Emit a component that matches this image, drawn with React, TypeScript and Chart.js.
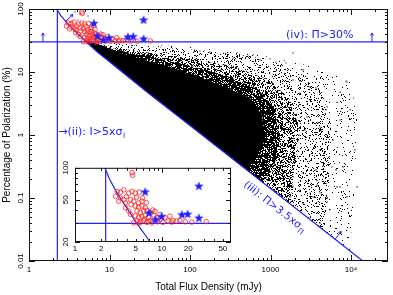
import React, { useEffect, useRef } from 'react';
import { Chart, registerables } from 'chart.js';

Chart.register(...registerables);

// ---------------- data ----------------
const xRange = [1, 28800];
const yRange = [0.01, 100];
const xTickValues = [1, 10, 100, 1000, 10000];
const xTickLabels = ['1', '10', '100', '1000', '10⁴'];
const yTickValues = [0.01, 0.1, 1, 10, 100];
const yTickLabels = ['0.01', '0.1', '1', '10', '100'];

const insetXRange = [1, 62];
const insetYRange = [20, 100];
const insetXTickValues = [1, 2, 5, 10, 20, 50];
const insetXTickLabels = ['1', '2', '5', '10', '20', '50'];
const insetYTickValues = [20, 50, 100];
const insetYTickLabels = ['20', '50', '100'];

// selection limits
const fluxLimit = 2.25; // (ii) I > 5 sigma_I  (mJy)
const polLimit = 30; // (iv) Pi > 30 %
const limitCurveI = [2.2, 2.5, 3, 4, 5, 7, 10, 30, 100, 1000, 14000];
const limitCurveP = [100, 78, 59, 41, 31, 21, 14.5, 4.7, 1.42, 0.142, 0.01];

// envelopes of the dense cloud of polarized sources (upper edge; last point lies on the limit curve)
const coreEdgeI = [5, 18, 75, 236, 556, 784, 855, 642, 482];
const coreEdgeP = [31, 17.9, 10.8, 6.22, 3.87, 2.08, 0.833, 0.401, 0.29];
const innerEdgeI = [5, 18, 75, 280, 700, 1100, 1300, 1100, 800];
const innerEdgeP = [31, 20, 13.8, 8.8, 5.3, 2.7, 0.9, 0.3, 0.175];
const midEdgeI = [5, 18, 75, 314, 986, 1746, 2323, 2014, 1746];
const midEdgeP = [31, 22.3, 17.3, 12.4, 7.46, 3.59, 1.2, 0.334, 0.08];
const outerEdgeI = [5, 31.8, 133, 556, 1746, 4120, 5480, 5480, 4750];
const outerEdgeP = [31, 24.9, 22.3, 17.9, 12.4, 6.22, 1.73, 0.278, 0.0298];
const haloEdgeI = [5, 100, 741, 4120, 9730, 11900, 11200, 9730];
const haloEdgeP = [31, 24.9, 18.6, 11.6, 8.0, 1.73, 0.193, 0.0146];

// sparse sources in the outskirts of the cloud
const fieldI = [1170, 986, 8670, 7300, 3670, 1900, 3100, 2530, 4890, 7300, 5970, 2680, 4120, 1560, 1900, 2320,
  8910, 6700, 9730, 7960, 11900, 4120, 3890, 2840, 2320, 3100, 5040, 5800, 3780, 2530, 3370, 8910, 7300, 5480,
  4120, 3780, 3100, 2530, 1750, 2320, 6700, 3780, 4890, 4120, 6510, 3670, 1900, 342, 272, 133, 177, 741, 11200,
  3.73, 4.3, 4.06, 5.41, 3.42, 6.06];
const fieldP = [14.4, 16.1, 7.2, 4.8, 5.6, 20, 3.6, 10.8, 2.5, 1.73, 0.83, 1.2, 1.34, 13.9, 7.5, 4.6,
  6.9, 3.3, 2.5, 0.31, 0.15, 0.58, 1.55, 1.93, 7.2, 5.8, 2.8, 0.31, 0.19, 0.25, 0.104, 0.104, 0.15, 0.065,
  0.04, 0.058, 0.12, 0.083, 0.104, 0.134, 0.15, 0.16, 0.17, 0.12, 0.28, 0.28, 0.15, 16.7, 12.9, 21.5, 20.8, 15.5, 0.58,
  89.6, 83.4, 66.9, 77.4, 62.2, 55.7];

// highly polarized candidates (red open circles)
const candI = [4.53, 4.6, 3.06, 3.33, 3.63, 4.14, 4.53, 4.93, 5.48, 2.92, 3.33, 3.19, 3.63, 3.8, 4.33, 4.72, 5.38,
  5.88, 4.93, 5.38, 5.88, 6.41, 5.16, 5.62, 6.13, 6.7, 7.31, 4.93, 5.38, 5.88, 6.41, 6.98, 5.16, 5.62, 6.13, 6.7,
  7.31, 7.64, 4.72, 5.38, 3.8, 4.14, 4.33, 9.49, 10.8, 11.8, 12.3, 13.4, 14.7, 16.0, 32.2, 8.7, 8.3, 9.49,
  4.4, 6.0, 6.6, 7.8, 8.1, 6.3, 7.0, 8.9, 10.2, 12.9, 5.1, 18.5, 22, 3.9];
const candP = [90, 85, 59.8, 59, 62, 57.7, 59.8, 57.7, 59, 53.8, 52, 48.4, 50.1, 46.7, 50.1, 48.4, 46.7,
  48.4, 43.6, 42.7, 43.6, 42.1, 39.2, 37.9, 39.2, 39.7, 37.9, 35.3, 34.0, 34.6, 35.3, 34.0, 31.8, 30.6, 31.8, 30.6,
  31.8, 30.3, 30.3, 30.2, 42.1, 39.2, 36.5, 32.6, 33.8, 31.5, 35.0, 32.0, 31.5, 32.0, 31.1, 33.8, 38.9, 36.3,
  45, 52, 47, 40, 35.5, 33, 31.2, 31, 30.6, 30.8, 53, 31, 30.8, 53.5];

// confirmed sources (blue stars)
const starI = [6.4, 7.1, 8.4, 9.9, 16.9, 19.7, 26.5, 26.5];
const starP = [59.6, 37.8, 32.6, 35.0, 36.3, 36.8, 67.6, 33.8];

// ---------------- styling ----------------
const BLUE = '#2020ff';
const RED = '#ff2020';
const SANS = '"Liberation Sans", Arial, sans-serif';
const LABEL_FONT = '"DejaVu Sans", sans-serif';

const pts = (I: number[], P: number[]) => I.map((x, i) => ({ x, y: P[i] }));

function polygon(edgeI: number[], edgeP: number[]) {
  const out = pts(edgeI, edgeP);
  const lo = edgeI[0];
  const hi = edgeI[edgeI.length - 1];
  for (let i = limitCurveI.length - 1; i >= 0; i--) {
    const x = limitCurveI[i];
    if (x > lo && x < hi) out.push({ x, y: limitCurveP[i] });
  }
  out.push(out[0]);
  return out;
}

// speckled fill texture (style only) used to render the density of the point cloud
function speckle(density: number) {
  const n = 97;
  const c = document.createElement('canvas');
  c.width = n;
  c.height = n;
  const g = c.getContext('2d')!;
  const img = g.createImageData(n, n);
  for (let j = 0; j < n; j++) {
    for (let i = 0; i < n; i++) {
      let h = Math.imul(i + 1, 374761393) ^ Math.imul(j + 7, 668265263);
      h = Math.imul(h ^ (h >>> 13), 1274126177);
      h ^= h >>> 16;
      const v = (h >>> 0) / 4294967296;
      if (v < density) img.data[(j * n + i) * 4 + 3] = 255;
    }
  }
  g.putImageData(img, 0, 0);
  return g.createPattern(c, 'repeat') as CanvasPattern;
}

function makeStar(size: number, color: string) {
  const c = document.createElement('canvas');
  c.width = size;
  c.height = size;
  const g = c.getContext('2d')!;
  const cx = size / 2, cy = size / 2 + 0.4, R = size / 2, r = R * 0.42;
  g.beginPath();
  for (let k = 0; k < 10; k++) {
    const a = -Math.PI / 2 + (k * Math.PI) / 5;
    const rr = k % 2 === 0 ? R : r;
    const px = cx + rr * Math.cos(a), py = cy + rr * Math.sin(a);
    if (k === 0) g.moveTo(px, py); else g.lineTo(px, py);
  }
  g.closePath();
  g.fillStyle = color;
  g.fill();
  return c;
}

function arrow(ctx: CanvasRenderingContext2D, x: number, y: number, dx: number, dy: number, len: number) {
  const x1 = x + dx * len, y1 = y + dy * len;
  const a = Math.atan2(dy, dx), h = 3;
  ctx.beginPath();
  ctx.moveTo(x, y);
  ctx.lineTo(x1, y1);
  ctx.moveTo(x1, y1);
  ctx.lineTo(x1 - h * Math.cos(a - 0.5), y1 - h * Math.sin(a - 0.5));
  ctx.moveTo(x1, y1);
  ctx.lineTo(x1 - h * Math.cos(a + 0.5), y1 - h * Math.sin(a + 0.5));
  ctx.stroke();
}

function frameTicks(id: string, xt: number[], xMajor: number[], yt: number[], yMajor: number[], lMaj: number, lMin: number) {
  return {
    id,
    afterDatasetsDraw(chart: any) {
      const { ctx, chartArea: a } = chart;
      const xs = chart.scales.x, ys = chart.scales.y;
      ctx.save();
      ctx.strokeStyle = '#111';
      ctx.lineWidth = 1;
      ctx.strokeRect(a.left + 0.5, a.top + 0.5, a.right - a.left - 1, a.bottom - a.top - 1);
      ctx.beginPath();
      for (const v of xt) {
        const p = Math.round(xs.getPixelForValue(v)) + 0.5;
        const L = xMajor.includes(v) ? lMaj : lMin;
        ctx.moveTo(p, a.bottom); ctx.lineTo(p, a.bottom - L);
        ctx.moveTo(p, a.top); ctx.lineTo(p, a.top + L);
      }
      for (const v of yt) {
        const p = Math.round(ys.getPixelForValue(v)) + 0.5;
        const L = yMajor.includes(v) ? lMaj : lMin;
        ctx.moveTo(a.left, p); ctx.lineTo(a.left + L, p);
        ctx.moveTo(a.right, p); ctx.lineTo(a.right - L, p);
      }
      ctx.stroke();
      ctx.restore();
    },
  };
}

const mainXTicks: number[] = [];
for (let d = 1; d <= 10000; d *= 10) for (let m = 1; m <= 9; m++) if (d * m <= xRange[1]) mainXTicks.push(d * m);
const mainYTicks: number[] = [];
for (const d of [0.01, 0.1, 1, 10]) for (let m = 1; m <= 9; m++) mainYTicks.push(+(d * m).toPrecision(3));
mainYTicks.push(100);
const insetXTicks: number[] = [];
for (const d of [1, 10]) for (let m = 1; m <= 9; m++) if (d * m <= insetXRange[1]) insetXTicks.push(d * m);
const insetYTicks = [20, 30, 40, 50, 60, 70, 80, 90, 100];

const annotPlugin = {
  id: 'annot',
  afterDatasetsDraw(chart: any) {
    const { ctx } = chart;
    const xs = chart.scales.x, ys = chart.scales.y;
    const F = (s: number) => `${s}px ${LABEL_FONT}`;
    ctx.save();
    ctx.fillStyle = BLUE;
    ctx.strokeStyle = BLUE;
    ctx.lineWidth = 1;
    ctx.textAlign = 'left';
    ctx.textBaseline = 'alphabetic';

    // (iv)
    const yl = ys.getPixelForValue(polLimit);
    ctx.font = F(11);
    ctx.fillText('(iv): Π>30%', xs.getPixelForValue(1560), yl - 4);
    arrow(ctx, xs.getPixelForValue(1.49), yl, 0, -1, 9);
    arrow(ctx, xs.getPixelForValue(18200), yl, 0, -1, 9);

    // (ii)
    const x2 = xs.getPixelForValue(fluxLimit) + 1, y2 = ys.getPixelForValue(1);
    const t2 = '→(ii): I>5xσ';
    ctx.font = F(11);
    ctx.fillText(t2, x2, y2);
    const w2 = ctx.measureText(t2).width;
    ctx.font = F(7.5);
    ctx.fillText('I', x2 + w2 + 0.5, y2 + 3);

    // (iii) arrows
    arrow(ctx, xs.getPixelForValue(2.85), ys.getPixelForValue(63.5), 0.72, -0.69, 10);
    arrow(ctx, xs.getPixelForValue(6330), ys.getPixelForValue(0.0221), 0.616, -0.788, 10);

    // (iii) label, rotated along the limit curve
    const cx = xs.getPixelForValue(1150), cy = ys.getPixelForValue(0.075);
    ctx.translate(cx, cy);
    ctx.rotate((38 * Math.PI) / 180);
    const t3 = '(iii): Π>3.5xσ';
    ctx.font = F(10.5);
    const w3 = ctx.measureText(t3).width;
    ctx.font = F(7.5);
    const ws = ctx.measureText('Π').width;
    const x0 = -(w3 + ws) / 2;
    ctx.font = F(10.5);
    ctx.fillText(t3, x0, 4);
    ctx.font = F(7.5);
    ctx.fillText('Π', x0 + w3 + 0.5, 7);
    ctx.restore();
  },
};

function lineDs(data: any[], color: string, width: number) {
  return { type: 'line', data, borderColor: color, borderWidth: width, pointRadius: 0, pointHitRadius: 0, fill: false, tension: 0 };
}
function polyDs(data: any[], color: any) {
  return {
    type: 'line', data, fill: 'shape', backgroundColor: color, borderColor: 'rgba(0,0,0,0)', borderWidth: 0,
    pointRadius: 0, pointHitRadius: 0, tension: 0,
  };
}

function axis(range: number[], tickVals: number[], tickLabels: string[], opts: any) {
  return {
    type: 'logarithmic',
    min: range[0],
    max: range[1],
    grid: { display: false, drawTicks: false },
    border: { display: false },
    afterBuildTicks: (ax: any) => {
      ax.ticks = tickVals.map((v) => ({ value: v }));
    },
    ...opts,
    ticks: {
      autoSkip: false,
      color: '#000',
      font: { family: SANS, size: 8 },
      callback: (_v: any, i: number) => tickLabels[i],
      ...opts.ticks,
    },
  };
}

export default function App() {
  const mainRef = useRef<HTMLCanvasElement>(null);
  const insetRef = useRef<HTMLCanvasElement>(null);

  useEffect(() => {
    const star = makeStar(10, BLUE);
    const main = new Chart(mainRef.current!, {
      type: 'scatter',
      data: {
        datasets: [
          { data: pts(starI, starP), pointStyle: star, pointRadius: 5, borderWidth: 0 },
          { data: pts(candI, candP), pointStyle: 'circle', pointRadius: 2.3, borderWidth: 0.8, borderColor: RED, backgroundColor: 'rgba(0,0,0,0)' },
          lineDs(pts(limitCurveI, limitCurveP), BLUE, 1.2),
          lineDs([{ x: fluxLimit, y: yRange[0] }, { x: fluxLimit, y: yRange[1] }], BLUE, 1.2),
          lineDs([{ x: xRange[0], y: polLimit }, { x: xRange[1], y: polLimit }], BLUE, 1.2),
          { data: pts(fieldI, fieldP), pointStyle: 'rect', pointRadius: 0.8, borderWidth: 0, backgroundColor: '#000' },
          polyDs(polygon(coreEdgeI, coreEdgeP), '#000'),
          polyDs(polygon(innerEdgeI, innerEdgeP), speckle(0.8)),
          polyDs(polygon(midEdgeI, midEdgeP), speckle(0.45)),
          polyDs(polygon(outerEdgeI, outerEdgeP), speckle(0.17)),
          polyDs(polygon(haloEdgeI, haloEdgeP), speckle(0.045)),
        ] as any,
      },
      options: {
        animation: false,
        responsive: false,
        events: [],
        layout: { padding: { left: 0, top: 9, right: 5, bottom: 0 } },
        plugins: { legend: { display: false }, tooltip: { enabled: false } },
        scales: {
          x: axis(xRange, xTickValues, xTickLabels, {
            position: 'bottom',
            afterFit: (ax: any) => { ax.height = 34; },
            ticks: { maxRotation: 0, minRotation: 0, padding: 4 },
            title: { display: true, text: 'Total Flux Density (mJy)', color: '#000', font: { family: SANS, size: 10 }, padding: { top: 0, bottom: 1.5 } },
          }),
          y: axis(yRange, yTickValues, yTickLabels, {
            position: 'left',
            afterFit: (ax: any) => { ax.width = 29; },
            ticks: { maxRotation: 90, minRotation: 90, padding: 0, crossAlign: 'center' },
            title: { display: true, text: 'Percentage of Polarization (%)', color: '#000', font: { family: SANS, size: 10 }, padding: { top: 1.5, bottom: 0 } },
          }),
        } as any,
      },
      plugins: [frameTicks('mainFrame', mainXTicks, xTickValues, mainYTicks, yTickValues, 6, 3), annotPlugin],
    } as any);

    const inset = new Chart(insetRef.current!, {
      type: 'scatter',
      data: {
        datasets: [
          { data: pts(starI, starP), pointStyle: star, pointRadius: 5, borderWidth: 0 },
          { data: pts(candI, candP), pointStyle: 'circle', pointRadius: 2.3, borderWidth: 0.8, borderColor: RED, backgroundColor: 'rgba(0,0,0,0)' },
          lineDs(pts(limitCurveI, limitCurveP), BLUE, 1.2),
          lineDs([{ x: fluxLimit, y: insetYRange[0] }, { x: fluxLimit, y: insetYRange[1] }], BLUE, 1.2),
          lineDs([{ x: insetXRange[0], y: polLimit }, { x: insetXRange[1], y: polLimit }], BLUE, 1.2),
        ] as any,
      },
      options: {
        animation: false,
        responsive: false,
        events: [],
        layout: { padding: { left: 0, top: 7, right: 7, bottom: 0 } },
        plugins: { legend: { display: false }, tooltip: { enabled: false } },
        scales: {
          x: axis(insetXRange, insetXTickValues, insetXTickLabels, {
            position: 'bottom',
            afterFit: (ax: any) => { ax.height = 15; },
            ticks: { maxRotation: 0, minRotation: 0, padding: 2 },
          }),
          y: axis(insetYRange, insetYTickValues, insetYTickLabels, {
            position: 'left',
            afterFit: (ax: any) => { ax.width = 17; },
            ticks: { maxRotation: 90, minRotation: 90, padding: 3, crossAlign: 'center' },
          }),
        } as any,
      },
      plugins: [frameTicks('insetFrame', insetXTicks, [1, 10], insetYTicks, insetYTickValues, 5, 3)],
    } as any);

    return () => {
      main.destroy();
      inset.destroy();
    };
  }, []);

  return (
    <div style={{ position: 'absolute', left: 0, top: 0, width: 393, height: 295, background: '#fff' }}>
      <canvas ref={mainRef} width={393} height={295} style={{ position: 'absolute', left: 0, top: 0, width: 393, height: 295 }} />
      <canvas ref={insetRef} width={180} height={97} style={{ position: 'absolute', left: 58, top: 160, width: 180, height: 97 }} />
    </div>
  );
}
